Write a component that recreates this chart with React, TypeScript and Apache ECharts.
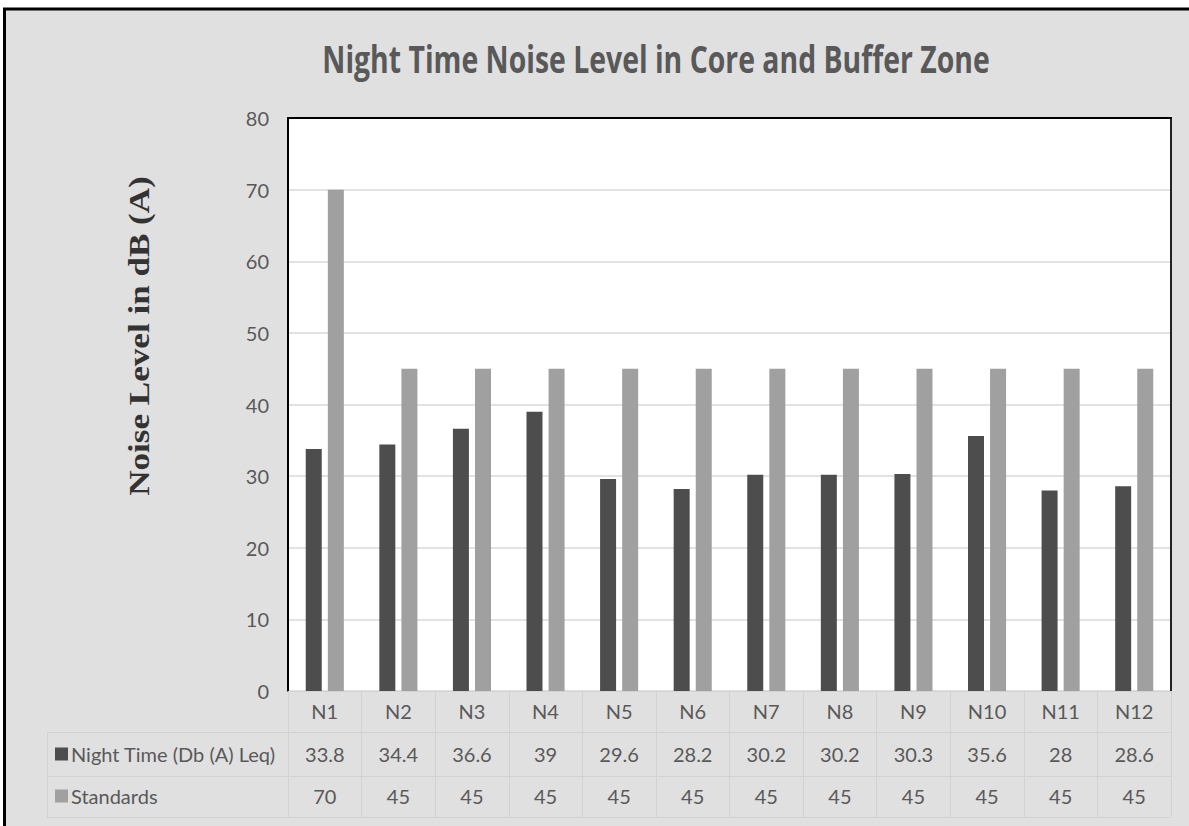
import React, { useEffect, useRef } from "react";
import * as echarts from "echarts";

const categories = ["N1", "N2", "N3", "N4", "N5", "N6", "N7", "N8", "N9", "N10", "N11", "N12"];
const nightTime = [33.8, 34.4, 36.6, 39, 29.6, 28.2, 30.2, 30.2, 30.3, 35.6, 28, 28.6];
const standards = [70, 45, 45, 45, 45, 45, 45, 45, 45, 45, 45, 45];
const seriesNames = ["Night Time (Db (A) Leq)", "Standards"];
const titleText = "Night Time Noise Level in Core and Buffer Zone";
const yAxisTitle = "Noise Level in dB (A)";
const yMin = 0;
const yMax = 80;
const yInterval = 10;

const FONT = "Lato";
const TXT = "#595959";
const CELL = "#d2d2d2";

export default function App() {
  const ref = useRef<HTMLDivElement>(null);
  useEffect(() => {
    if (!ref.current) return;
    const chart = echarts.init(ref.current, undefined, { renderer: "svg" });
    const valueLabel = (arr: number[], offset: number) => ({
      type: "category",
      data: arr.map(String),
      position: "bottom",
      offset,
      axisLine: { show: false },
      axisTick: { show: false },
      axisLabel: { fontSize: 20, color: TXT, fontFamily: FONT, margin: 10, interval: 0 },
    });
    chart.setOption({
      animation: false,
      backgroundColor: "#e0e0e0",
      legend: {
        orient: "vertical",
        left: 55,
        top: 744,
        padding: 0,
        itemWidth: 13,
        itemHeight: 13,
        itemGap: 22,
        icon: "rect",
        selectedMode: false,
        textStyle: { fontSize: 20, color: TXT, fontFamily: FONT, lineHeight: 20, padding: [0, 0, 0, -2] },
        data: seriesNames,
      },
      grid: { left: 288, right: 18, top: 118, bottom: 135, show: true, backgroundColor: "#fff", borderWidth: 0 },
      xAxis: [
        {
          type: "category",
          data: categories,
          position: "bottom",
          axisLine: { show: true, lineStyle: { color: CELL, width: 1 } },
          axisTick: { show: true, length: 126, lineStyle: { color: CELL, width: 1 } },
          axisLabel: { fontSize: 20, color: TXT, fontFamily: FONT, margin: 10, interval: 0 },
        },
        valueLabel(nightTime, 43),
        valueLabel(standards, 85),
        {
          type: "category",
          data: categories,
          position: "top",
          axisLine: { show: true, lineStyle: { color: "#000", width: 2 } },
          axisTick: { show: false },
          axisLabel: { show: false },
        },
      ],
      yAxis: [
        {
          type: "value",
          min: yMin,
          max: yMax,
          interval: yInterval,
          axisLine: { show: true, lineStyle: { color: "#000", width: 2 } },
          axisTick: { show: false },
          axisLabel: { fontSize: 20, color: TXT, fontFamily: FONT, margin: 19 },
          splitLine: { show: true, lineStyle: { color: "#d9d9d9", width: 1.5 } },
        },
        {
          type: "value",
          position: "right",
          min: yMin,
          max: yMax,
          interval: yInterval,
          axisLine: { show: true, lineStyle: { color: "#222", width: 2 } },
          axisTick: { show: false },
          axisLabel: { show: false },
          splitLine: { show: false },
        },
      ],
      series: [
        {
          name: seriesNames[0],
          type: "bar",
          data: nightTime,
          barWidth: 16,
          barGap: "38%",
          itemStyle: { color: "#4d4d4d" },
        },
        {
          name: seriesNames[1],
          type: "bar",
          data: standards,
          barWidth: 16,
          barGap: "38%",
          itemStyle: { color: "#a0a0a0" },
        },
      ],
      graphic: [
        { type: "rect", shape: { x: 0, y: 0, width: 1189, height: 8 }, style: { fill: "#fff" }, silent: true },
        { type: "rect", shape: { x: 0, y: 0, width: 3, height: 826 }, style: { fill: "#fff" }, silent: true },
        { type: "line", shape: { x1: 3, y1: 9, x2: 1189, y2: 9 }, style: { stroke: "#000", lineWidth: 3 }, silent: true },
        { type: "line", shape: { x1: 4.5, y1: 8, x2: 4.5, y2: 826 }, style: { stroke: "#000", lineWidth: 3 }, silent: true },
        { type: "line", shape: { x1: 47, y1: 732.5, x2: 1171, y2: 732.5 }, style: { stroke: CELL, lineWidth: 1 }, silent: true },
        { type: "line", shape: { x1: 47, y1: 776.5, x2: 1171, y2: 776.5 }, style: { stroke: CELL, lineWidth: 1 }, silent: true },
        { type: "line", shape: { x1: 47, y1: 817.5, x2: 1171, y2: 817.5 }, style: { stroke: CELL, lineWidth: 1 }, silent: true },
        { type: "line", shape: { x1: 47.5, y1: 732, x2: 47.5, y2: 818 }, style: { stroke: CELL, lineWidth: 1 }, silent: true },
        {
          type: "text",
          x: 656,
          y: 58,
          scaleY: 1.33,
          style: {
            text: titleText,
            font: "bold 28.4px 'Open Sans'",
            fill: TXT,
            align: "center",
            verticalAlign: "middle",
          },
          silent: true,
        },
        {
          type: "text",
          x: 139,
          y: 336,
          rotation: Math.PI / 2,
          scaleX: 1.17,
          style: {
            text: yAxisTitle,
            font: "bold 30px 'Liberation Serif'",
            fill: "#333",
            align: "center",
            verticalAlign: "middle",
          },
          silent: true,
        },
      ],
    });
    return () => chart.dispose();
  }, []);
  return <div ref={ref} style={{ position: "fixed", left: 0, top: 0, width: 1189, height: 826 }} />;
}
